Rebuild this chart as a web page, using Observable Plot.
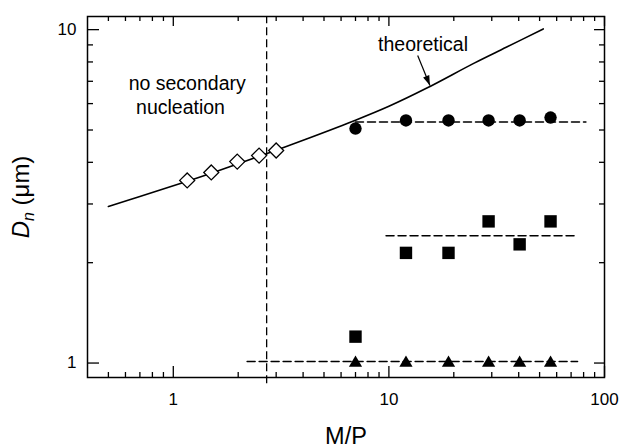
<!DOCTYPE html>
<html><head><meta charset="utf-8">
<script src="https://cdn.jsdelivr.net/npm/d3@7"></script>
<script src="https://cdn.jsdelivr.net/npm/@observablehq/plot@0.6"></script>
<style>body{margin:0;background:#fff} svg{display:block}</style>
</head><body><div id="chart"></div>
<script>
// ---- data ----
const diamondX = [1.16, 1.5, 1.98, 2.5, 3.0];
const diamondY = [3.53, 3.73, 4.02, 4.19, 4.34];
const seriesX = [7.0, 12.0, 18.9, 29.0, 40.4, 56.2];
const circleY = [5.05, 5.34, 5.34, 5.34, 5.34, 5.45];
const squareY = [1.2, 2.14, 2.14, 2.66, 2.27, 2.66];
const triangleY = [1.0, 1.0, 1.0, 1.0, 1.0, 1.0];
const theoryX = [0.5, 0.7, 1.0, 1.5, 2.0, 3.0, 4.3, 7.0, 10, 15, 25, 35, 52];
const theoryY = [2.95, 3.16, 3.40, 3.71, 3.96, 4.35, 4.74, 5.35, 5.89, 6.68, 7.95, 8.85, 10.05];
const circleFitX = [7.0, 82]; const circleFitY = [5.28, 5.28];
const squareFitX = [9.7, 75]; const squareFitY = [2.41, 2.41];
const triangleFitX = [2.2, 75]; const triangleFitY = [1.01, 1.01];
const criticalX = [2.71]; const criticalY = [0.867, 10.95];
const arrowX = [13.6, 15.5]; const arrowY = [8.37, 6.8];
const noteLines = ["no secondary", "nucleation"];
const noteX = [1.16, 1.08]; const noteY = [6.57, 5.57];
const theoryLabel = "theoretical"; const theoryLabelX = 14.4; const theoryLabelY = 8.63;
const xMajor = [1, 10, 100];
const xMinor = [0.5, 0.6, 0.7, 0.8, 0.9, 2, 3, 4, 5, 6, 7, 8, 9, 20, 30, 40, 50, 60, 70, 80, 90];
const yMajor = [1, 10];
const yMinor = [2, 3, 4, 5, 6, 7, 8, 9];
const xTitle = "M/P";
const yTitle = "Dn (μm)";

// ---- layout ----
const W = 623, H = 447, mL = 87, mR = 19, mT = 16, mB = 70;
const pw = W - mL - mR, ph = H - mT - mB;
const font = "Liberation Sans, Arial, Helvetica, sans-serif";
const dash = "8,4";
const pts = (xs, ys) => xs.map((x, i) => ({x, y: ys[i]}));
const arrowHead = {draw(ctx) { ctx.moveTo(0, 0); ctx.lineTo(3.3, 10); ctx.lineTo(-3.3, 10); ctx.closePath(); }};

const chart = Plot.plot({
  width: W, height: H,
  marginLeft: mL, marginRight: mR, marginTop: mT, marginBottom: mB,
  style: {fontFamily: font, background: "white", color: "black"},
  x: {type: "log", domain: [0.4, 100], axis: null},
  y: {type: "log", domain: [0.905, 10.95], axis: null},
  marks: [
    // ticks (inward)
    Plot.tickX(xMajor, {x: d => d, insetTop: ph - 11, stroke: "black", strokeWidth: 1.3}),
    Plot.tickX(xMinor, {x: d => d, insetTop: ph - 5, stroke: "black", strokeWidth: 1.3}),
    Plot.tickX(xMajor, {x: d => d, insetBottom: ph - 10, stroke: "black", strokeWidth: 1.3}),
    Plot.tickX(xMinor, {x: d => d, insetBottom: ph - 5, stroke: "black", strokeWidth: 1.3}),
    Plot.tickY(yMajor, {y: d => d, insetRight: pw - 12, stroke: "black", strokeWidth: 1.3}),
    Plot.tickY(yMinor, {y: d => d, insetRight: pw - 6, stroke: "black", strokeWidth: 1.3}),
    Plot.tickY(yMajor, {y: d => d, insetLeft: pw - 10, stroke: "black", strokeWidth: 1.3}),
    Plot.tickY(yMinor, {y: d => d, insetLeft: pw - 5, stroke: "black", strokeWidth: 1.3}),
    // tick labels
    Plot.text(xMajor, {x: d => d, text: d => String(d), frameAnchor: "bottom", dy: 15, lineAnchor: "top", fontSize: 17, fill: "black"}),
    Plot.text(yMajor, {y: d => d, text: d => String(d), frameAnchor: "left", dx: -11, textAnchor: "end", fontSize: 17, fill: "black"}),
    // axis titles
    Plot.text([xTitle], {text: d => d, frameAnchor: "bottom", dy: 66, lineAnchor: "bottom", fontSize: 23.5, fill: "black"}),
    Plot.text([yTitle], {text: d => d, frameAnchor: "left", dx: -59, rotate: -90, lineAnchor: "bottom", textAnchor: "middle", fontSize: 24, fill: "black"}),
    // vertical dashed line
    Plot.ruleX(criticalX, {x: d => d, y1: criticalY[0], y2: criticalY[1], stroke: "black", strokeWidth: 1.3, strokeDasharray: dash}),
    // fit lines
    Plot.line(pts(circleFitX, circleFitY), {x: "x", y: "y", stroke: "black", strokeWidth: 1.5, strokeDasharray: dash}),
    Plot.line(pts(squareFitX, squareFitY), {x: "x", y: "y", stroke: "black", strokeWidth: 1.5, strokeDasharray: dash}),
    Plot.line(pts(triangleFitX, triangleFitY), {x: "x", y: "y", stroke: "black", strokeWidth: 1.5, strokeDasharray: dash}),
    // theoretical curve
    Plot.line(pts(theoryX, theoryY), {x: "x", y: "y", curve: "catmull-rom", stroke: "black", strokeWidth: 1.6}),
    // markers
    Plot.dot(pts(diamondX, diamondY), {x: "x", y: "y", symbol: "diamond2", r: 6.75, fill: "white", stroke: "black", strokeWidth: 1.3}),
    Plot.dot(pts(seriesX, circleY), {x: "x", y: "y", symbol: "circle", r: 6.2, fill: "black", stroke: "none"}),
    Plot.dot(pts(seriesX, squareY), {x: "x", y: "y", symbol: "square", r: 7, fill: "black", stroke: "none"}),
    Plot.dot(pts(seriesX, triangleY), {x: "x", y: "y", symbol: "triangle", r: 4.9, fill: "black", stroke: "none"}),
    // annotations
    Plot.text(noteLines, {x: (d, i) => noteX[i], y: (d, i) => noteY[i], text: d => d, lineAnchor: "bottom", fontSize: 19.5, fill: "black"}),
    Plot.text([theoryLabel], {x: () => theoryLabelX, y: () => theoryLabelY, text: d => d, lineAnchor: "bottom", fontSize: 19.5, fill: "black"}),
    Plot.link([0], {x1: () => arrowX[0], y1: () => arrowY[0], x2: () => arrowX[1], y2: () => arrowY[1], stroke: "black", strokeWidth: 1.2}),
    Plot.dot([0], {x: () => arrowX[1], y: () => arrowY[1], symbol: arrowHead, rotate: 158, fill: "black", stroke: "none"}),
    Plot.frame({stroke: "black", strokeWidth: 1.5})
  ]
});

// italic D with subscript n in the y title
chart.querySelectorAll("text").forEach(t => {
  if (t.textContent === yTitle) {
    const ns = "http://www.w3.org/2000/svg";
    t.textContent = "";
    const a = document.createElementNS(ns, "tspan"); a.setAttribute("font-style", "italic"); a.textContent = "D";
    const b = document.createElementNS(ns, "tspan"); b.setAttribute("font-style", "italic"); b.setAttribute("font-size", "16"); b.setAttribute("dy", "5"); b.textContent = "n";
    const c = document.createElementNS(ns, "tspan"); c.setAttribute("dy", "-5"); c.textContent = " (μm)";
    t.append(a, b, c);
  }
});
document.getElementById("chart").append(chart);
</script>
</body></html>
